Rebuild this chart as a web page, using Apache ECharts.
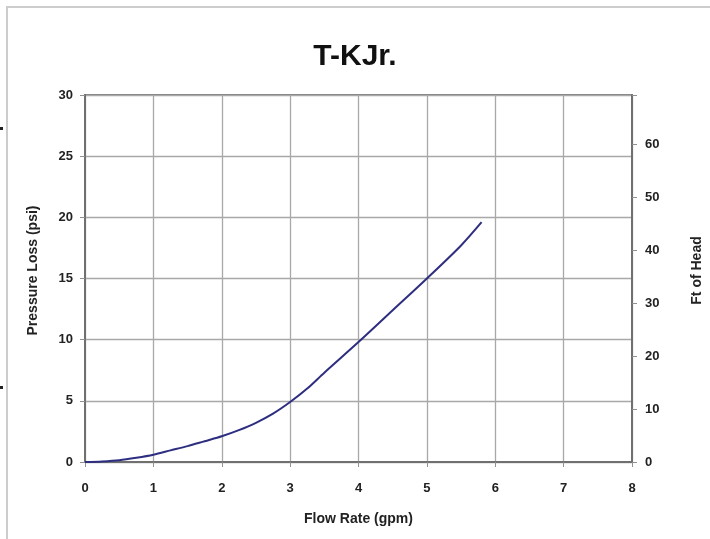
<!DOCTYPE html>
<html>
<head>
<meta charset="utf-8">
<script src="https://cdn.jsdelivr.net/npm/echarts@6/dist/echarts.min.js"></script>
<style>
html,body{margin:0;padding:0;background:#fff;}
#c{width:710px;height:539px;}
</style>
</head>
<body>
<div id="c"></div>
<script>
const titleText = "T-KJr.";
const flowRate = [0, 0.25, 0.5, 0.75, 1, 1.25, 1.5, 1.75, 2, 2.25, 2.5, 2.75, 3, 3.25, 3.5, 4, 4.5, 5, 5.5, 5.8];
const pressureLoss = [0, 0.05, 0.15, 0.35, 0.6, 0.95, 1.3, 1.7, 2.1, 2.6, 3.2, 3.95, 4.9, 6.0, 7.3, 9.8, 12.4, 15.0, 17.7, 19.6];
const xTicks = [0, 1, 2, 3, 4, 5, 6, 7, 8];
const psiTicks = [0, 5, 10, 15, 20, 25, 30];
const headTicks = [0, 10, 20, 30, 40, 50, 60];
const psiToFt = 2.31;

const font = "'Liberation Sans', Arial, sans-serif";
const lblStyle = {fontFamily: font, fontWeight: 'bold', fontSize: 13, color: '#222'};

const chart = echarts.init(document.getElementById('c'));
chart.setOption({
  animation: false,
  backgroundColor: '#fff',
  title: {
    text: titleText, left: 'center', top: 37,
    textStyle: {fontFamily: font, fontWeight: 'bold', fontSize: 30, color: '#111'}
  },
  grid: {left: 85, right: 78, top: 95, bottom: 77, show: true, borderColor: '#808080', borderWidth: 2, outerBoundsMode: 'none', containLabel: false},
  xAxis: {
    type: 'value', min: xTicks[0], max: xTicks[xTicks.length - 1], interval: 1,
    name: 'Flow Rate (gpm)', nameLocation: 'middle', nameGap: 50,
    nameTextStyle: Object.assign({}, lblStyle, {fontSize: 14}),
    axisLine: {show: true, lineStyle: {color: '#707070', width: 2}},
    axisTick: {show: true, length: 5, lineStyle: {color: '#909090'}},
    axisLabel: Object.assign({margin: 20}, lblStyle),
    splitLine: {show: true, lineStyle: {color: '#a8a8a8', width: 1.3}}
  },
  yAxis: [{
    type: 'value', min: psiTicks[0], max: psiTicks[psiTicks.length - 1], interval: 5,
    name: 'Pressure Loss (psi)', nameLocation: 'middle', nameGap: 45,
    nameTextStyle: Object.assign({padding: [0, 0, 0, 16]}, lblStyle, {fontSize: 14}),
    axisLine: {show: true, lineStyle: {color: '#707070', width: 2}},
    axisTick: {show: true, length: 5, lineStyle: {color: '#909090'}},
    axisLabel: Object.assign({margin: 12}, lblStyle),
    splitLine: {show: true, lineStyle: {color: '#a8a8a8', width: 1.3}}
  }, {
    type: 'value', position: 'right', min: 0, max: psiTicks[psiTicks.length - 1] * psiToFt, interval: 10,
    name: 'Ft of Head', nameLocation: 'middle', nameGap: 58,
    nameTextStyle: Object.assign({padding: [0, 0, 0, 16]}, lblStyle, {fontSize: 14}),
    axisLine: {show: true, lineStyle: {color: '#707070', width: 2}},
    axisTick: {show: true, length: 5, inside: false, lineStyle: {color: '#909090'}},
    axisLabel: Object.assign({margin: 13, formatter: function (v) { return headTicks.indexOf(v) >= 0 ? String(v) : ''; }}, lblStyle),
    splitLine: {show: false}
  }],
  series: [{
    type: 'line', yAxisIndex: 0, showSymbol: false, smooth: 0.3,
    data: flowRate.map((x, i) => [x, pressureLoss[i]]),
    lineStyle: {color: '#2e2e80', width: 2},
    itemStyle: {color: '#2e2e80'}
  }],
  graphic: [
    {type: 'rect', shape: {x: 7, y: 7, width: 720, height: 560}, style: {fill: 'none', stroke: '#cccccc', lineWidth: 2}, silent: true},
    {type: 'rect', shape: {x: 0, y: 127, width: 3, height: 3}, style: {fill: '#222'}, silent: true},
    {type: 'rect', shape: {x: 0, y: 386, width: 3, height: 3}, style: {fill: '#222'}, silent: true}
  ]
});
</script>
</body>
</html>
